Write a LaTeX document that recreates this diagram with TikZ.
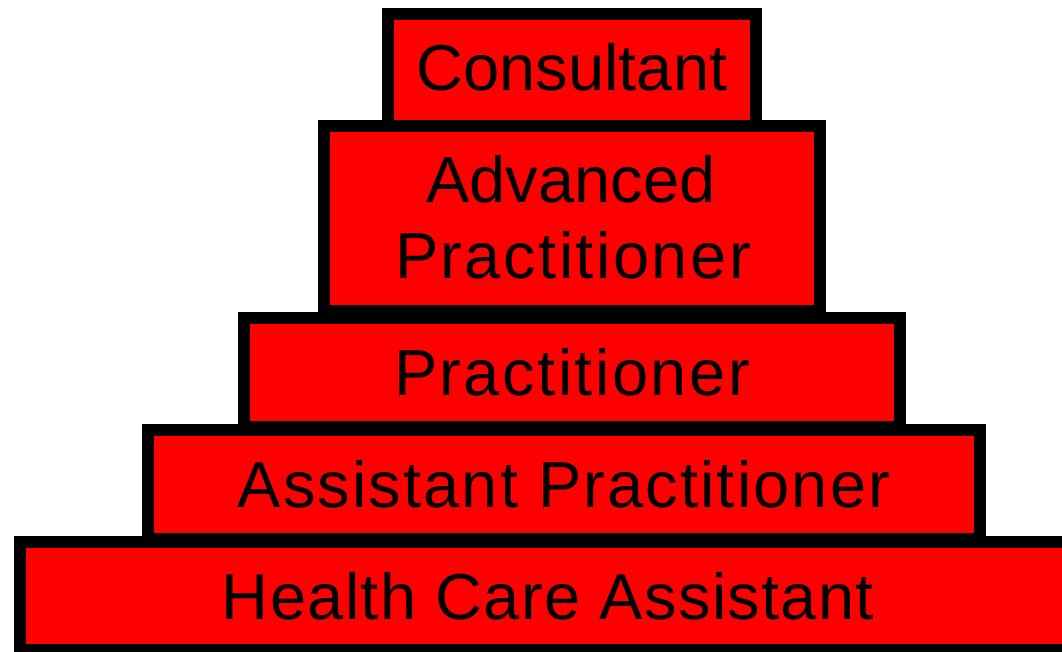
\documentclass[tikz,border=0pt]{standalone}
\usepackage{fontspec}
\setmainfont{Liberation Sans}
\newfontfamily\spacedA{Liberation Sans}[LetterSpace=3.8]
\newfontfamily\spacedB{Liberation Sans}[LetterSpace=3.2]
\newfontfamily\spacedC{Liberation Sans}[LetterSpace=2]
\begin{document}
\begin{tikzpicture}[x=1pt,y=-1pt,
  tier/.style={draw=black,fill=red,line width=12pt,inner sep=0pt,outer sep=0pt,anchor=north west},
  lbl/.style={font=\fontsize{65}{76}\selectfont,anchor=base,inner sep=0pt,outer sep=0pt}]
\useasboundingbox (0,0) rectangle (1062,652);
\clip (0,0) rectangle (1062,652);
% tiers (path rectangles; stroke 12pt centred)
\node[tier,minimum width=368pt,minimum height=112pt] (cons) at (388,14) {};
\node[tier,minimum width=496pt,minimum height=185pt] (adv)  at (324,126) {};
\node[tier,minimum width=656pt,minimum height=109pt] (prac) at (244,318) {};
\node[tier,minimum width=832pt,minimum height=109pt] (asst) at (148,430) {};
\node[tier,minimum width=1056pt,minimum height=108pt] (hca) at (20,542) {};
% labels
\node[lbl] (tcons) at (572,91)  {Consultant};
\node[lbl] (tadv1) at (571,203) {Advanced};
\node[lbl,font=\spacedA\fontsize{65}{76}\selectfont] (tadv2) at (573,279) {Practitioner};
\node[lbl,font=\spacedA\fontsize{65}{76}\selectfont] (tprac) at (572,395) {Practitioner};
\node[lbl,font=\spacedB\fontsize{65}{76}\selectfont] (tasst) at (564,507) {Assistant Practitioner};
\node[lbl,font=\spacedC\fontsize{65}{76}\selectfont] (thca)  at (548,619) {Health Care Assistant};
\end{tikzpicture}
\end{document}
